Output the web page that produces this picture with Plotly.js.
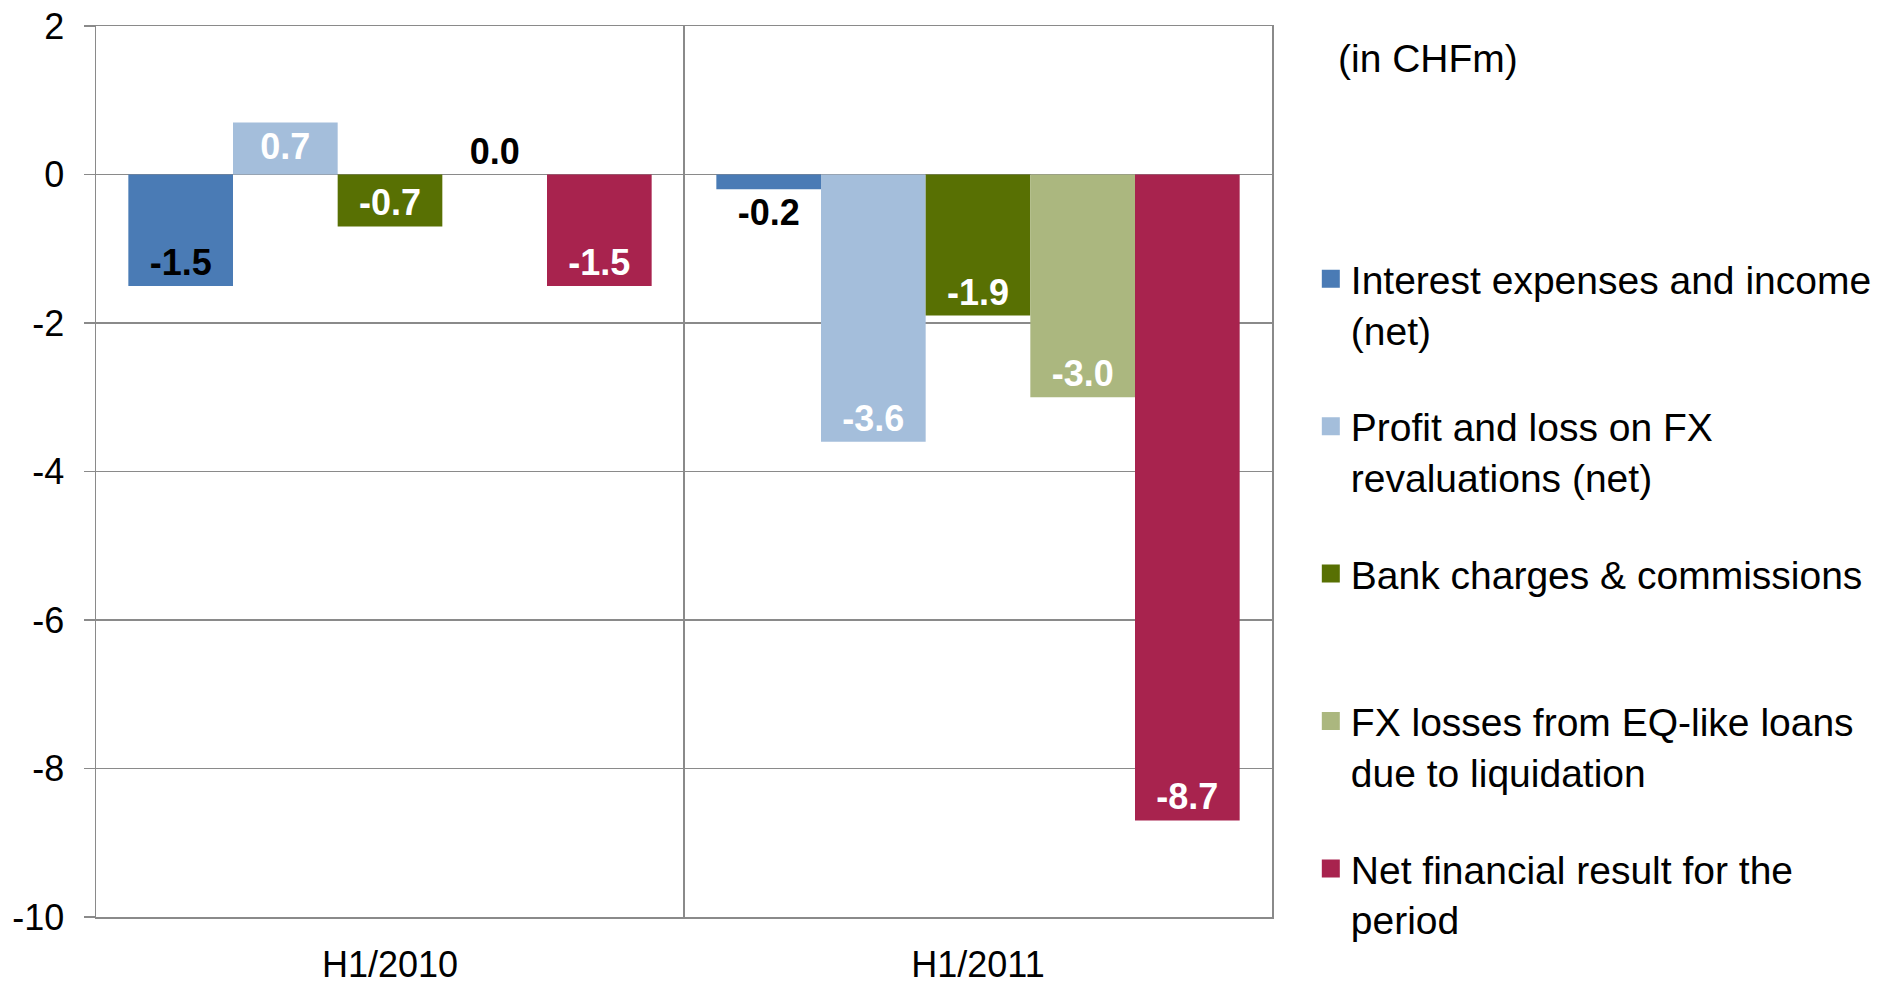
<!DOCTYPE html>
<html>
<head>
<meta charset="utf-8">
<script src="https://cdn.plot.ly/plotly-3.0.1.min.js"></script>
<style>html,body{margin:0;padding:0;background:#fff;}#chart{width:1891px;height:988px;}</style>
</head>
<body>
<div id="chart"></div>
<script>
var categories = ["H1/2010", "H1/2011"];
var seriesNames = [
  "Interest expenses and income<br>(net)",
  "Profit and loss on FX<br>revaluations (net)",
  "Bank charges & commissions<br>\u00a0",
  "FX losses from EQ-like loans<br>due to liquidation",
  "Net financial result for the<br>period"
];
var interestNet = [-1.5, -0.2];
var fxRevaluation = [0.7, -3.6];
var bankCharges = [-0.7, -1.9];
var fxLossesEqLoans = [0.0, -3.0];
var netResult = [-1.5, -8.7];
var yTickVals = [2, 0, -2, -4, -6, -8, -10];

var colors = ["#4a7bb5", "#a4bedb", "#587003", "#abb77f", "#a8234e"];
var values = [interestNet, fxRevaluation, bankCharges, fxLossesEqLoans, netResult];
var positions = [
  ["inside", "outside"],
  ["inside", "inside"],
  ["inside", "inside"],
  ["outside", "inside"],
  ["inside", "inside"]
];
var textColors = [
  ["#000000", "#000000"],
  ["#ffffff", "#ffffff"],
  ["#ffffff", "#ffffff"],
  ["#000000", "#ffffff"],
  ["#ffffff", "#ffffff"]
];
var FONT = "Liberation Sans, Arial, Helvetica, sans-serif";

var traces = values.map(function (vals, i) {
  return {
    type: "bar",
    name: seriesNames[i],
    legendgroup: "g" + i,
    showlegend: false,
    x: categories,
    y: vals,
    text: vals.map(function (v) { return v.toFixed(1); }),
    textposition: positions[i],
    insidetextanchor: "end",
    constraintext: "none",
    cliponaxis: false,
    textfont: { family: FONT, size: 36, color: textColors[i], weight: "bold" },
    marker: { color: colors[i], line: { width: 0 } },
    hoverinfo: "none"
  };
});

// legend entries (same series, larger square swatches as in the reference)
seriesNames.forEach(function (name, i) {
  traces.push({
    type: "scatter",
    mode: "markers",
    name: name,
    legendgroup: "g" + i,
    showlegend: true,
    x: [null],
    y: [null],
    marker: { symbol: "square", size: 16, color: colors[i], line: { width: 2, color: colors[i] } },
    hoverinfo: "none"
  });
});

var gridColor = "#8a8a8a";

var layout = {
  width: 1891,
  height: 988,
  margin: { l: 96, r: 619, t: 26, b: 71 },
  paper_bgcolor: "#ffffff",
  plot_bgcolor: "#ffffff",
  font: { family: FONT, size: 36, color: "#000000" },
  barmode: "group",
  bargap: 0.11,
  bargroupgap: 0,
  showlegend: true,
  legend: {
    x: 1.033, xanchor: "left",
    y: 0.752, yanchor: "top",
    valign: "top",
    itemsizing: "trace",
    tracegroupgap: 43,
    font: { family: FONT, size: 39, color: "#000000" },
    bgcolor: "rgba(0,0,0,0)"
  },
  xaxis: {
    type: "category",
    categoryarray: categories,
    tickson: "boundaries",
    showgrid: true,
    gridcolor: gridColor,
    gridwidth: 1.5,
    showline: true,
    linecolor: gridColor,
    linewidth: 1.5,
    mirror: true,
    ticks: "",
    ticklabelstandoff: 15,
    tickfont: { family: FONT, size: 36, color: "#000000" },
    fixedrange: true
  },
  yaxis: {
    range: [-10, 2],
    tickvals: yTickVals,
    ticktext: yTickVals.map(function (v) { return String(v); }),
    showgrid: true,
    gridcolor: gridColor,
    gridwidth: 1.5,
    zeroline: true,
    zerolinecolor: gridColor,
    zerolinewidth: 1.5,
    showline: true,
    linecolor: gridColor,
    linewidth: 1.5,
    mirror: true,
    ticks: "outside",
    ticklen: 11,
    tickwidth: 1.5,
    tickcolor: gridColor,
    ticklabelstandoff: 12,
    tickfont: { family: FONT, size: 36, color: "#000000" },
    fixedrange: true
  },
  annotations: [{
    text: "(in CHFm)",
    xref: "paper", yref: "paper",
    x: 1.054, xanchor: "left",
    y: 0.964, yanchor: "middle",
    showarrow: false,
    font: { family: FONT, size: 39, color: "#000000" }
  }]
};

Plotly.newPlot("chart", traces, layout, { staticPlot: true, displayModeBar: false });
</script>
</body>
</html>
